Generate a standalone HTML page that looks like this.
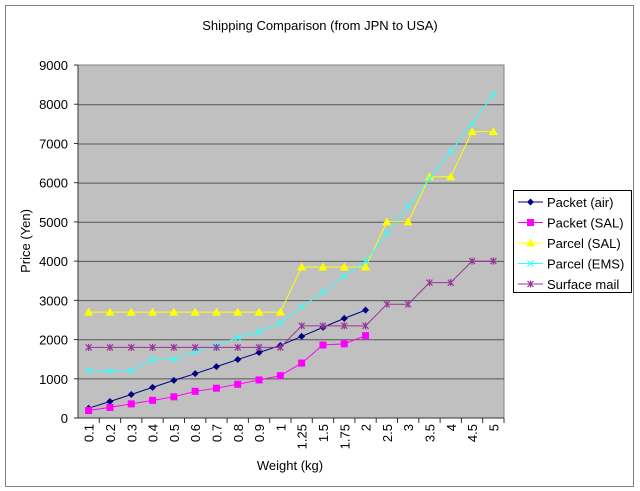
<!DOCTYPE html>
<html><head><meta charset="utf-8"><style>body{margin:0;background:#fff}svg{display:block;font-family:"Liberation Sans","Noto Sans CJK JP",sans-serif}</style></head><body>
<svg width="640" height="491" viewBox="0 0 640 491" xmlns="http://www.w3.org/2000/svg">
<rect x="0" y="0" width="640" height="491" fill="#fff"/>
<rect x="5.5" y="5.5" width="628" height="481" fill="#fff" stroke="#808080" stroke-width="1"/>
<text x="320" y="30" font-size="13" text-anchor="middle">Shipping Comparison (from JPN to USA)</text>
<rect x="78" y="65" width="426" height="353" fill="#c0c0c0" stroke="#808080"/>
<g stroke="#555" stroke-width="1">
<line x1="78" x2="504" y1="104.8" y2="104.8"/><line x1="78" x2="504" y1="144" y2="144"/><line x1="78" x2="504" y1="183.1" y2="183.1"/><line x1="78" x2="504" y1="222.3" y2="222.3"/><line x1="78" x2="504" y1="261.4" y2="261.4"/><line x1="78" x2="504" y1="300.6" y2="300.6"/><line x1="78" x2="504" y1="339.7" y2="339.7"/><line x1="78" x2="504" y1="378.9" y2="378.9"/>
<line x1="78" x2="504" y1="418" y2="418" stroke="#333"/><line x1="78" x2="78" y1="65" y2="418" stroke="#333"/>
</g>
<g font-size="13" text-anchor="end" id="yl"></g>
<g id="xl" font-size="13"></g>
<g id="series"></g>
<text x="290" y="470" font-size="13" text-anchor="middle">Weight (kg)</text>
<text transform="translate(30,241) rotate(-90)" font-size="13" text-anchor="middle">Price (Yen)</text>
<rect x="513.5" y="190.5" width="118" height="102" fill="#fff" stroke="#000"/>
<g id="leg" font-size="13"></g>
<script>
var ns="http://www.w3.org/2000/svg";
function el(p,t,a,txt){var e=document.createElementNS(ns,t);for(var k in a)e.setAttribute(k,a[k]);if(txt)e.textContent=txt;p.appendChild(e);return e;}
var yl=document.getElementById('yl');
for(var i=0;i<=9;i++){el(yl,'text',{x:68,y:418-i*39.22+5},String(i*1000));el(yl,'line',{x1:74,x2:78,y1:418-i*39.22,y2:418-i*39.22,stroke:'#333'});}
var cats=['0.1','0.2','0.3','0.4','0.5','0.6','0.7','0.8','0.9','1','1.25','1.5','1.75','2','2.5','3','3.5','4','4.5','5'];
var w=426/20, xl=document.getElementById('xl');
function X(i){return 78+w*(i+0.5);}function Y(v){return 418-v*353/9000;}
for(var i=0;i<20;i++){var x=X(i);el(xl,'text',{transform:'translate('+(x+5)+',424) rotate(-90)','text-anchor':'end'},cats[i]);el(xl,'line',{x1:78+w*(i+1),x2:78+w*(i+1),y1:418,y2:423,stroke:'#333'});}
var S=[
{n:'Packet (air)',c:'#000080',m:'d',d:[250,420,600,780,960,1130,1310,1490,1670,1850,2080,2310,2540,2750]},
{n:'Packet (SAL)',c:'#ff00ff',m:'s',d:[190,270,360,450,540,680,760,860,970,1080,1400,1860,1890,2100]},
{n:'Parcel (SAL)',c:'#ffff00',m:'t',d:[2700,2700,2700,2700,2700,2700,2700,2700,2700,2700,3850,3850,3850,3850,5000,5000,6150,6150,7300,7300]},
{n:'Parcel (EMS)',c:'#33ffff',m:'x',d:[1200,1200,1200,1500,1500,1700,1850,2050,2200,2420,2830,3210,3620,4000,4700,5400,6100,6800,7500,8250]},
{n:'Surface mail',c:'#993399',m:'a',d:[1800,1800,1800,1800,1800,1800,1800,1800,1800,1800,2350,2350,2350,2350,2900,2900,3450,3450,4000,4000]}];
function mk(g,m,x,y,c){
 if(m=='d')el(g,'polygon',{points:(x)+','+(y-3.5)+' '+(x+3.5)+','+y+' '+x+','+(y+3.5)+' '+(x-3.5)+','+y,fill:c});
 else if(m=='s')el(g,'rect',{x:x-3.5,y:y-3.5,width:7,height:7,fill:c});
 else if(m=='t')el(g,'polygon',{points:x+','+(y-4.5)+' '+(x+4.5)+','+(y+3.5)+' '+(x-4.5)+','+(y+3.5),fill:c});
 else {el(g,'path',{d:'M'+(x-3)+' '+(y-3)+'L'+(x+3)+' '+(y+3)+'M'+(x+3)+' '+(y-3)+'L'+(x-3)+' '+(y+3)+(m=='a'?'M'+x+' '+(y-3.5)+'V'+(y+3.5):''),stroke:c,'stroke-width':1.2,fill:'none'});}
}
var sg=document.getElementById('series'),lg=document.getElementById('leg');
S.forEach(function(s,k){var p=s.d.map(function(v,i){return X(i)+','+Y(v);}).join(' ');
 el(sg,'polyline',{points:p,fill:'none',stroke:s.c,'stroke-width':1});
 s.d.forEach(function(v,i){mk(sg,s.m,X(i),Y(v),s.c);});
 var ly=202+k*20.5;el(lg,'line',{x1:518,x2:543,y1:ly,y2:ly,stroke:s.c});mk(lg,s.m,530.5,ly,s.c);
 el(lg,'text',{x:547,y:ly+5},s.n);});
</script>
</svg>
</body></html>
